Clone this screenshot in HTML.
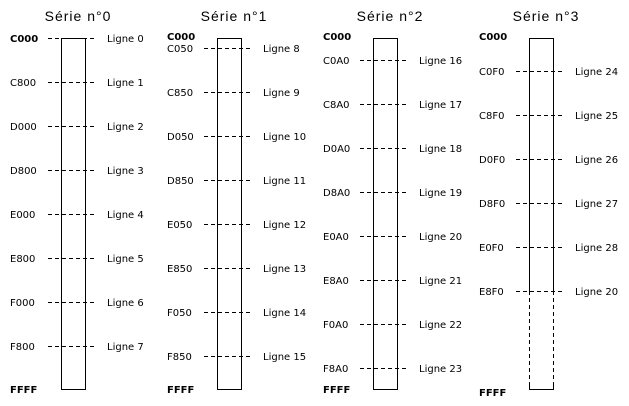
<!DOCTYPE html>
<html><head><meta charset="utf-8"><style>
html,body{margin:0;padding:0;background:#fff;width:629px;height:406px;overflow:hidden}
svg{display:block}
text{font-family:"DejaVu Sans","Liberation Sans",sans-serif;font-size:10px;fill:#000}
.t{font-size:14px;font-family:"Liberation Sans",sans-serif;letter-spacing:1px}
.b{font-weight:bold;font-size:10px}
.d{stroke:#000;stroke-width:1;stroke-dasharray:4 3;fill:none}
.s{stroke:#000;stroke-width:1;fill:none}
</style></head><body>
<svg width="629" height="406" viewBox="0 0 629 406">
<!-- Column 0 -->
<text class="t" x="78" y="21" text-anchor="middle">Série n°0</text>
<path class="s" d="M61.5 38.5V389.5H85.5V38.5Z"/>
<text class="b" x="10" y="42">C000</text>
<text class="b" x="10" y="393">FFFF</text>
<g class="d"><path d="M48 38.5H97M48 82.5H97M48 126.5H97M48 170.5H97M48 214.5H97M48 258.5H97M48 302.5H97M48 346.5H97"/></g>
<text x="10" y="86">C800</text><text x="10" y="130">D000</text><text x="10" y="174">D800</text><text x="10" y="218">E000</text><text x="10" y="262">E800</text><text x="10" y="306">F000</text><text x="10" y="350">F800</text>
<text x="107" y="42">Ligne 0</text><text x="107" y="86">Ligne 1</text><text x="107" y="130">Ligne 2</text><text x="107" y="174">Ligne 3</text><text x="107" y="218">Ligne 4</text><text x="107" y="262">Ligne 5</text><text x="107" y="306">Ligne 6</text><text x="107" y="350">Ligne 7</text>

<!-- Column 1 -->
<text class="t" x="234" y="21" text-anchor="middle">Série n°1</text>
<path class="s" d="M217.5 38.5V389.5H241.5V38.5Z"/>
<text class="b" x="167" y="40">C000</text>
<text class="b" x="167" y="393">FFFF</text>
<g class="d"><path d="M204 48.5H253M204 92.5H253M204 136.5H253M204 180.5H253M204 224.5H253M204 268.5H253M204 312.5H253M204 356.5H253"/></g>
<text x="167" y="52">C050</text><text x="167" y="96">C850</text><text x="167" y="140">D050</text><text x="167" y="184">D850</text><text x="167" y="228">E050</text><text x="167" y="272">E850</text><text x="167" y="316">F050</text><text x="167" y="360">F850</text>
<text x="263" y="52">Ligne 8</text><text x="263" y="96">Ligne 9</text><text x="263" y="140">Ligne 10</text><text x="263" y="184">Ligne 11</text><text x="263" y="228">Ligne 12</text><text x="263" y="272">Ligne 13</text><text x="263" y="316">Ligne 14</text><text x="263" y="360">Ligne 15</text>

<!-- Column 2 -->
<text class="t" x="390" y="21" text-anchor="middle">Série n°2</text>
<path class="s" d="M373.5 38.5V389.5H397.5V38.5Z"/>
<text class="b" x="323" y="40">C000</text>
<text class="b" x="323" y="393">FFFF</text>
<g class="d"><path d="M360 60.5H409M360 104.5H409M360 148.5H409M360 192.5H409M360 236.5H409M360 280.5H409M360 324.5H409M360 368.5H409"/></g>
<text x="323" y="64">C0A0</text><text x="323" y="108">C8A0</text><text x="323" y="152">D0A0</text><text x="323" y="196">D8A0</text><text x="323" y="240">E0A0</text><text x="323" y="284">E8A0</text><text x="323" y="328">F0A0</text><text x="323" y="372">F8A0</text>
<text x="419" y="64">Ligne 16</text><text x="419" y="108">Ligne 17</text><text x="419" y="152">Ligne 18</text><text x="419" y="196">Ligne 19</text><text x="419" y="240">Ligne 20</text><text x="419" y="284">Ligne 21</text><text x="419" y="328">Ligne 22</text><text x="419" y="372">Ligne 23</text>

<!-- Column 3 -->
<text class="t" x="546" y="21" text-anchor="middle">Série n°3</text>
<path class="s" d="M529.5 291V38.5H553.5V291"/>
<path class="d" d="M529.5 291V382M553.5 291V382"/>
<path class="s" d="M529.5 382V389.5H553.5V382"/>
<text class="b" x="479" y="40">C000</text>
<text class="b" x="479" y="396">FFFF</text>
<g class="d"><path d="M516 71.5H565M516 115.5H565M516 159.5H565M516 203.5H565M516 247.5H565M516 291.5H565"/></g>
<text x="479" y="75">C0F0</text><text x="479" y="119">C8F0</text><text x="479" y="163">D0F0</text><text x="479" y="207">D8F0</text><text x="479" y="251">E0F0</text><text x="479" y="295">E8F0</text>
<text x="575" y="75">Ligne 24</text><text x="575" y="119">Ligne 25</text><text x="575" y="163">Ligne 26</text><text x="575" y="207">Ligne 27</text><text x="575" y="251">Ligne 28</text><text x="575" y="295">Ligne 20</text>
</svg>
</body></html>
